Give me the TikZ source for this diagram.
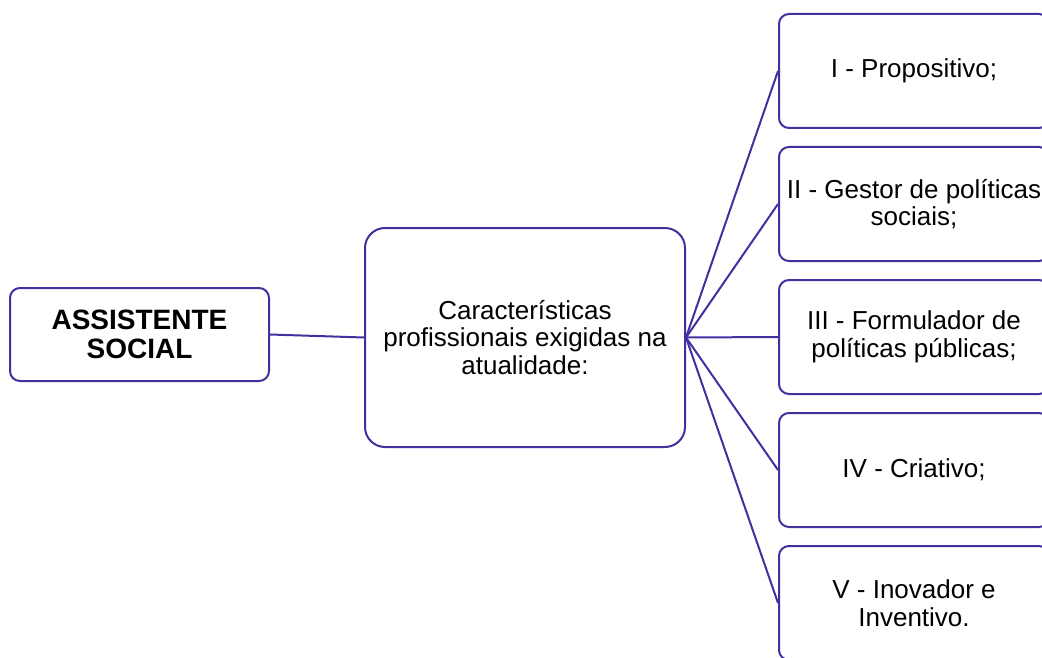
\documentclass[tikz,border=0pt]{standalone}
\usepackage{fontspec}
\setmainfont{Liberation Sans}
\definecolor{edge}{RGB}{64,48,160}
\begin{document}
\begin{tikzpicture}[x=1pt,y=-1pt,
  box/.style={draw=edge,line width=2pt,rounded corners=10pt,fill=white,align=center,inner sep=0pt,
    font=\fontsize{26}{27.5}\selectfont},
  link/.style={draw=edge,line width=2pt}]
\useasboundingbox (0,0) rectangle (1042,658);
\begin{scope}
\clip (0,0) rectangle (1042,658);
\node[box,minimum width=259pt,minimum height=93pt,font=\bfseries\fontsize{28}{29}\selectfont] (root) at (139.5,334.5) {ASSISTENTE\\SOCIAL};
\node[box,rounded corners=20pt,minimum width=320pt,minimum height=219pt] (mid) at (525,337.5) {Características\\profissionais exigidas na\\atualidade:};
\node[box,minimum width=270pt,minimum height=114pt] (r1) at (914,71) {I - Propositivo;};
\node[box,minimum width=270pt,minimum height=114pt] (r2) at (914,204) {II - Gestor de políticas\\sociais;};
\node[box,minimum width=270pt,minimum height=114pt] (r3) at (914,337) {III - Formulador de\\políticas públicas;};
\node[box,minimum width=270pt,minimum height=114pt] (r4) at (914,470) {IV - Criativo;};
\node[box,minimum width=270pt,minimum height=114pt] (r5) at (914,603) {V - Inovador e\\Inventivo.};
\draw[link] (root.east) -- (mid.west);
\foreach \n in {r1,r2,r3,r4,r5}{\draw[link] (mid.east) -- (\n.west);}
\end{scope}
\end{tikzpicture}
\end{document}
